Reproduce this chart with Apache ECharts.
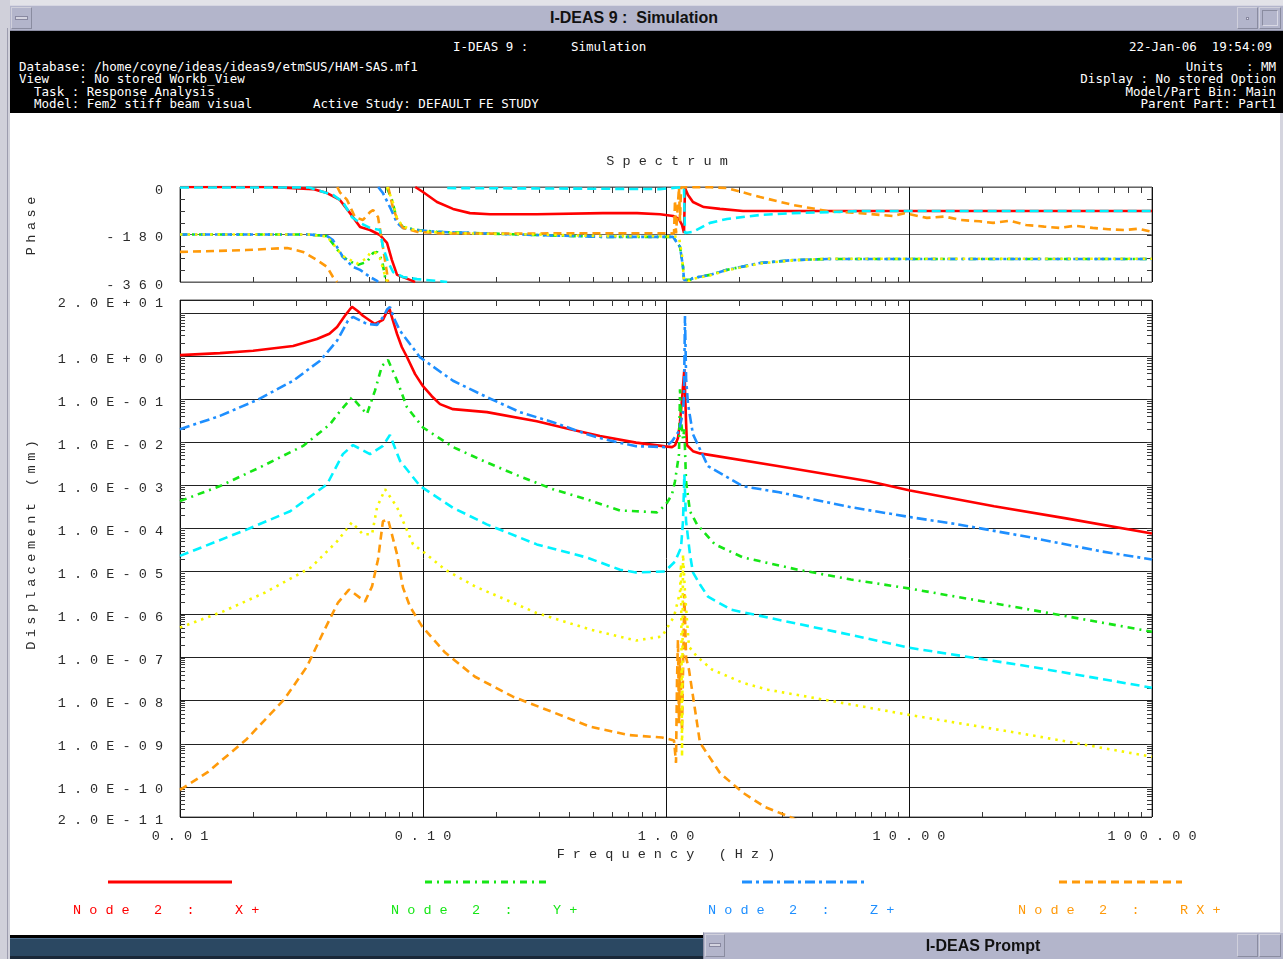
<!DOCTYPE html>
<html>
<head>
<meta charset="utf-8">
<script src="https://cdn.jsdelivr.net/npm/echarts@6/dist/echarts.min.js"></script>
<style>
html,body{margin:0;padding:0;width:1283px;height:959px;overflow:hidden;background:#fff;}
#chart{position:absolute;left:0;top:0;width:1283px;height:959px;}
.c{position:absolute;z-index:5;box-sizing:border-box;}
.m{position:absolute;z-index:6;font-family:"DejaVu Sans Mono",monospace;font-size:12.5px;line-height:13px;color:#fff;white-space:pre;}
.tb{position:absolute;z-index:6;font-family:"Liberation Sans",Arial,sans-serif;font-weight:bold;font-size:16px;color:#111;text-align:center;white-space:pre;}
</style>
</head>
<body>
<div id="chart"></div>

<!-- window chrome -->
<div class="c" style="left:0;top:0;width:1283px;height:5px;background:#e2e2e8;"></div>
<div class="c" style="left:0;top:0;width:10px;height:959px;background:#d0d0da;"></div>
<div class="c" style="left:7px;top:28px;width:1px;height:931px;background:#9c9cae;"></div>
<div class="c" style="left:1280px;top:31px;width:3px;height:902px;background:#d4d4de;"></div>
<div class="c" style="left:10px;top:5px;width:1273px;height:26px;background:#b3b5cb;border-top:1px solid #d6d6e2;border-bottom:1px solid #8c8ea4;"></div>
<div class="c" style="left:11px;top:7px;width:21px;height:22px;border:1px solid #d0d0dc;border-right-color:#8a8ca0;border-bottom-color:#8a8ca0;"></div>
<div class="c" style="left:15px;top:16px;width:13px;height:4px;background:#d4d4e0;border:1px solid #8888a0;"></div>
<div class="c" style="left:1237px;top:7px;width:21px;height:22px;border:1px solid #d0d0dc;border-right-color:#8a8ca0;border-bottom-color:#8a8ca0;"></div>
<div class="c" style="left:1246px;top:17px;width:3px;height:3px;background:#e8e8f0;border:1px solid #8888a0;"></div>
<div class="c" style="left:1259px;top:7px;width:22px;height:22px;border:1px solid #d0d0dc;border-right-color:#8a8ca0;border-bottom-color:#8a8ca0;"></div>
<div class="c" style="left:1262px;top:10px;width:16px;height:16px;border:1px solid #8a8ca0;border-right-color:#d8d8e4;border-bottom-color:#d8d8e4;"></div>
<div class="tb" style="left:484px;top:9px;width:300px;">I-DEAS 9 :  Simulation</div>

<div class="c" style="left:10px;top:31px;width:1273px;height:82px;background:#000;"></div>
<div class="m" style="left:453px;top:40px;">I-DEAS 9 :</div>
<div class="m" style="left:571px;top:40px;">Simulation</div>
<div class="m" style="right:11px;top:40px;">22-Jan-06  19:54:09</div>
<div class="m" style="left:19px;top:60px;">Database: /home/coyne/ideas/ideas9/etmSUS/HAM-SAS.mf1</div>
<div class="m" style="left:19px;top:72px;">View    : No stored Workb_View</div>
<div class="m" style="left:19px;top:85px;">  Task : Response Analysis</div>
<div class="m" style="left:19px;top:97px;">  Model: Fem2 stiff beam visual</div>
<div class="m" style="left:313px;top:97px;">Active Study: DEFAULT FE STUDY</div>
<div class="m" style="right:7px;top:60px;">Units   : MM</div>
<div class="m" style="right:7px;top:72px;">Display : No stored Option</div>
<div class="m" style="right:7px;top:85px;">Model/Part Bin: Main</div>
<div class="m" style="right:7px;top:97px;">Parent Part: Part1</div>

<div class="c" style="left:10px;top:935px;width:693px;height:3px;background:#000;"></div>
<div class="c" style="left:10px;top:938px;width:693px;height:18px;background:#2b4862;border-top:1px solid #4f7090;"></div>
<div class="c" style="left:10px;top:956px;width:693px;height:3px;background:#1a2838;"></div>
<div class="c" style="left:703px;top:932px;width:580px;height:27px;background:#b3b5cb;border-top:1px solid #d6d6e2;border-left:1px solid #8c8ea4;"></div>
<div class="c" style="left:705px;top:934px;width:20px;height:23px;border:1px solid #d0d0dc;border-right-color:#8a8ca0;border-bottom-color:#8a8ca0;"></div>
<div class="c" style="left:709px;top:943px;width:12px;height:4px;background:#d4d4e0;border:1px solid #8888a0;"></div>
<div class="c" style="left:1237px;top:934px;width:21px;height:23px;border:1px solid #d0d0dc;border-right-color:#8a8ca0;border-bottom-color:#8a8ca0;"></div>
<div class="c" style="left:1259px;top:934px;width:22px;height:23px;border:1px solid #d0d0dc;border-right-color:#8a8ca0;border-bottom-color:#8a8ca0;"></div>
<div class="tb" style="left:833px;top:937px;width:300px;">I-DEAS Prompt</div>

<script>
// ---------------- data ----------------
const freqRange = [0.01, 100];          // Hz, log axis
const dispRange = [2e-11, 20];          // mm, log scale
const phaseRange = [-360, 0];           // degrees
const phaseStep = 180;

const seriesNames = ['Node 2 :  X+', 'Node 2 :  Y+', 'Node 2 :  Z+', 'Node 2 :  RX+', 'Node 2 :  RY+', 'Node 2 :  RZ+'];
const legendNames = ['Node 2 :  X+', 'Node 2 :  Y+', 'Node 2 :  Z+', 'Node 2 :  RX+'];

// Displacement magnitude [frequency Hz, displacement mm]
const magX = [
 [0.01,1.05],[0.0146,1.17],[0.0200,1.33],[0.0292,1.71],[0.0366,2.48],[0.0412,3.3],[0.0443,4.72],[0.0477,8.6],
 [0.0510,14.0],[0.0540,11.0],[0.0566,8.6],[0.0634,5.55],[0.0684,6.9],[0.0705,9.8],[0.0728,12.5],[0.0750,7.0],
 [0.0782,3.25],[0.0818,1.62],[0.0859,0.95],[0.0928,0.38],[0.1,0.20],[0.1087,0.117],[0.1175,0.0765],[0.1329,0.0585],
 [0.1833,0.0499],[0.294,0.0308],[0.403,0.0200],[0.535,0.0140],[0.753,0.0098],[0.99,0.0080],[1.059,0.0077],
 [1.09,0.0085],[1.12,0.0125],[1.142,0.03],[1.164,0.1],[1.19,0.5],[1.209,0.03],[1.22,0.0085],[1.291,0.0062],
 [1.38,0.0055],[2.92,0.00277],[6.84,0.00124],[10.1,0.00076],[22.4,0.000325],[44.3,0.000171],[100,7.6e-5]
];
const magY = [
 [0.01,4.3e-4],[0.0146,9.6e-4],[0.0213,2.6e-3],[0.0321,8.2e-3],[0.0414,0.026],[0.0455,0.052],[0.051,0.11],
 [0.054,0.077],[0.0588,0.045],[0.0634,0.156],[0.0678,0.59],[0.0718,0.81],[0.0782,0.27],[0.0859,0.065],
 [0.1,0.022],[0.133,7.7e-3],[0.183,3.4e-3],[0.251,1.6e-3],[0.343,8.1e-4],[0.473,4.7e-4],[0.647,2.6e-4],
 [0.753,2.5e-4],[0.9185,2.35e-4],[1.0,3.6e-4],[1.059,6.2e-4],[1.089,1.24e-3],[1.131,5.3e-3],[1.142,0.17],
 [1.153,0.031],[1.175,0.012],[1.19,0.02],[1.209,1.24e-3],[1.255,2.5e-4],[1.341,1.24e-4],[1.591,4.25e-5],
 [2.074,2.12e-5],[3.46,1.11e-5],[5.77,6.5e-6],[10.1,4.0e-6],[31.5,1.3e-6],[100,4.0e-7]
];
const magZ = [
 [0.01,0.0200],[0.0146,0.0409],[0.0207,0.0948],[0.0292,0.267],[0.0377,0.78],[0.0443,2.27],[0.0491,6.6],
 [0.0515,8.1],[0.0560,6.4],[0.0588,5.55],[0.0647,5.3],[0.0690,8.5],[0.0711,12.0],[0.0731,13.8],[0.0760,7.5],
 [0.0804,3.87],[0.0973,0.93],[0.1329,0.267],[0.1833,0.111],[0.2506,0.0499],[0.3426,0.0292],[0.4733,0.0153],
 [0.535,0.0125],[0.6284,0.0100],[0.753,0.0081],[0.99,0.0077],[1.059,0.0105],[1.131,0.0183],[1.175,0.05],
 [1.186,0.131],[1.197,8.5],[1.21,0.3],[1.232,0.0765],[1.291,0.0153],[1.489,0.00277],[2.074,0.00095],
 [2.92,0.00069],[5.77,0.00031],[10.28,0.00018],[15.9,0.000124],[31.5,6.2e-5],[62.3,2.9e-5],[100,1.9e-5]
];
const magRX = [
 [0.01,8.5e-11],[0.013,2.2e-10],[0.0187,1.24e-9],[0.0268,1.06e-8],[0.0333,6.2e-8],[0.0388,3.8e-7],[0.0447,1.9e-6],
 [0.0496,3.8e-6],[0.0577,2.0e-6],[0.0617,4.5e-6],[0.0653,1.9e-5],[0.0684,1.46e-4],[0.0718,1.62e-4],[0.0782,2.5e-5],
 [0.0827,4.25e-6],[0.0884,1.53e-6],[0.0991,5.3e-7],[0.1233,1.31e-7],[0.1637,3.6e-8],[0.2345,1.24e-8],[0.34,5.5e-9],
 [0.487,2.5e-9],[0.698,1.6e-9],[0.963,1.4e-9],[1.079,1.2e-9],[1.0995,3.6e-10],[1.11,3e-8],[1.12,2.6e-7],
 [1.131,3e-9],[1.142,1e-7],[1.164,2e-9],[1.19,3e-6],[1.21,1e-7],[1.243,5.3e-8],[1.38,1.06e-9],[1.668,2.1e-10],
 [2.074,7.3e-11],[2.555,3.4e-11],[3.24,2.0e-11],[3.8,1.3e-11]
];
const magRY = [
 [0.01,2.3e-5],[0.0189,9.5e-5],[0.0284,2.5e-4],[0.0403,1.06e-3],[0.0468,5.3e-3],[0.0515,8.6e-3],[0.0605,5.3e-3],
 [0.0684,8.2e-3],[0.0731,0.0148],[0.0804,3.7e-3],[0.0973,9.6e-4],[0.133,3.0e-4],[0.183,1.24e-4],[0.294,4.25e-5],
 [0.473,2.1e-5],[0.647,1.1e-5],[0.753,9.5e-6],[0.99,1.0e-5],[1.089,1.7e-5],[1.153,3.6e-5],[1.175,1.5e-4],
 [1.19,1.8e-3],[1.209,1.5e-4],[1.255,2.5e-5],[1.291,9.5e-6],[1.38,5.0e-6],[1.489,2.6e-6],[1.851,1.3e-6],
 [2.63,8.5e-7],[5.72,3.4e-7],[10,1.7e-7],[31.5,6.2e-8],[100,2.0e-8]
];
const magRZ = [
 [0.01,5.0e-7],[0.015,1.17e-6],[0.0224,3.25e-6],[0.0346,1.24e-5],[0.0443,5.0e-5],[0.051,1.38e-4],[0.0566,7.3e-5],
 [0.0617,7.3e-5],[0.0647,3.1e-4],[0.0698,8.1e-4],[0.0711,8.5e-4],[0.0782,3.1e-4],[0.091,4.25e-5],[0.1,2.9e-5],
 [0.1233,1.1e-5],[0.1637,4.5e-6],[0.292,1.1e-6],[0.487,4.5e-7],[0.753,2.5e-7],[0.963,3.1e-7],[1.079,9.0e-7],
 [1.142,3.3e-6],[1.153,1.5e-5],[1.164,5e-10],[1.175,2.5e-5],[1.198,3.0e-6],[1.243,1.8e-7],[1.341,1.06e-7],
 [1.546,5.3e-8],[2.074,2.6e-8],[2.63,1.8e-8],[10,4.7e-9],[31.5,1.6e-9],[100,5.0e-10]
];

// Phase [frequency Hz, degrees]; null = wrap gap
const phX = [
 [0.01,0],[0.0235,0],[0.0352,-8],[0.0403,-23],[0.0455,-49],[0.0501,-99],[0.0551,-152],[0.0605,-163],
 [0.0665,-182],[0.0711,-212],[0.0745,-277],[0.0782,-333],[0.0884,-352],[0.0928,-360],[0.0928,null],
 [0.0929,0],[0.1,-19],[0.1142,-57],[0.1329,-83],[0.156,-99],[0.1886,-103],[0.294,-103],[0.55,-99],
 [0.76,-99],[0.9446,-103],[1.07,-110],[1.13,-121],[1.164,-144],[1.186,-174],[1.197,-4],[1.232,-30],
 [1.291,-57],[1.43,-76],[1.668,-83],[2.074,-91],[100,-91]
];
const phY = [
 [0.01,-180],[0.034,-180],[0.0403,-186],[0.0468,-265],[0.0535,-296],[0.0588,-284],[0.0623,-250],[0.0647,-246],
 [0.0678,-277],[0.0698,-341],[0.0711,-360],[0.0711,null],[0.0712,-4],[0.0745,-49],[0.0782,-125],[0.0827,-152],
 [0.0945,-163],[0.1142,-170],[0.1561,-174],[0.294,-182],[0.55,-189],[1.0,-189],[1.069,-189],[1.142,-227],
 [1.175,-303],[1.186,-352],[1.255,-352],[1.291,-345],[1.518,-333],[1.782,-314],[2.437,-288],[3.33,-277],
 [4.6,-273],[100,-273]
];
const phZ = [
 [0.01,-180],[0.034,-180],[0.0403,-186],[0.0426,-201],[0.0468,-265],[0.0515,-303],[0.0551,-314],[0.0605,-341],
 [0.0647,-356],[0.0653,-360],[0.0653,null],[0.0654,0],[0.0684,-23],[0.0731,-76],[0.0782,-136],[0.0827,-155],
 [0.0945,-163],[0.1142,-170],[0.1561,-174],[0.294,-182],[0.55,-189],[1.0,-189],[1.069,-189],[1.142,-227],
 [1.175,-303],[1.186,-352],[1.255,-352],[1.291,-345],[1.518,-333],[1.782,-314],[2.437,-288],[3.33,-277],
 [4.6,-273],[100,-273]
];
const phRX = [
 [0.01,-246],[0.0187,-239],[0.0276,-231],[0.0321,-246],[0.0366,-277],[0.0403,-303],[0.0426,-341],[0.0443,-360],
 [0.0443,null],[0.0444,0],[0.0455,-20],[0.0487,-49],[0.0525,-114],[0.0566,-125],[0.0605,-95],[0.0623,-87],
 [0.0653,-114],[0.0684,-227],[0.0711,-326],[0.0718,-360],[0.0718,null],[0.0719,0],[0.0753,-80],[0.0782,-120],
 [0.0827,-155],[0.0945,-170],[0.12,-176],[0.3,-176],[0.6,-175],[0.99,-175],[1.079,-176],[1.089,-50],
 [1.0995,-176],[1.12,-176],[1.131,-2],[1.142,-130],[1.153,-2],[1.22,-1],[1.52,-1],[1.78,-4],[2.44,-38],
 [3.33,-68],[4.6,-91],[6.29,-99],[8.6,-110],[9.6,-99],[11.85,-117],[14.0,-112],[16.3,-125],[19.5,-130],
 [22.2,-136],[26.0,-128],[30.3,-144],[36.0,-150],[41.8,-155],[48.0,-147],[57.0,-155],[66.0,-160],[77.0,-163],
 [88.0,-158],[100,-170]
];
const phRY = [
 [0.01,-2],[0.034,-2],[0.0426,-30],[0.0468,-57],[0.0510,-114],[0.0551,-136],[0.0605,-155],[0.0665,-163],
 [0.0684,-227],[0.0718,-284],[0.0753,-322],[0.0827,-341],[0.0945,-349],[0.114,-356],[0.1257,-360],[0.1257,null],
 [0.1258,-4],[0.4,-6],[0.9446,-8],[1.12,-2],[1.186,-2],[1.197,-174],[1.291,-170],[1.518,-136],[1.782,-121],
 [2.437,-106],[3.33,-99],[4.8,-95],[6.29,-91],[100,-91]
];
const phRZ = [
 [0.01,-180],[0.034,-180],[0.0403,-188],[0.0468,-262],[0.0535,-290],[0.0588,-270],[0.0605,-250],[0.0634,-248],
 [0.0665,-270],[0.0698,-335],[0.0711,-360],[0.0711,null],[0.0712,0],[0.0753,-60],[0.0782,-120],[0.0827,-150],
 [0.0945,-165],[0.1142,-172],[0.1561,-176],[0.294,-180],[0.55,-186],[1.0,-187],[1.069,-187],[1.131,-190],
 [1.164,-260],[1.186,-355],[1.255,-355],[1.291,-348],[1.518,-335],[1.782,-316],[2.437,-290],[3.33,-278],
 [4.6,-272],[100,-272]
];

// ---------------- style ----------------
const FONT = 'Liberation Mono';
const FS = 13.5;
const TXT = '#2a2a2a';
const styles = [
  {color:'#ff0000', width:2.6, type:'solid'},
  {color:'#16e616', width:2.6, type:[7,5,2,5]},
  {color:'#1e8fff', width:2.6, type:[10,4,3,4]},
  {color:'#ff9a0a', width:2.6, type:[8,5]},
  {color:'#00f2ff', width:2.6, type:[9,5]},
  {color:'#f6f600', width:2.6, type:[2.5,5]}
];
const spaced = s => String(s).split('').join(' ');
// letters separated by narrow (rich-text) gaps, for the rotated axis names
const narrowSpaced = s => String(s).split('').join('{g| }');
const expLabel = v => {
  const s = v.toExponential(1).replace(/e([+-])(\d+)/, (m, sg, d) => 'E' + sg + (d.length < 2 ? '0' + d : d));
  return spaced(s);
};

// minor tick positions (axis decoration)
const minorFreq = [];
for (let n = -2; n <= 1; n++) for (let k = 2; k <= 9; k++) minorFreq.push(k * Math.pow(10, n));
const minorDisp = [];
for (let n = -11; n <= 1; n++) for (let k = 1; k <= 9; k++) {
  const v = k * Math.pow(10, n);
  if (v > dispRange[0] * 1.0001 && v < dispRange[1] * 0.9999) minorDisp.push(Math.log10(v));
}
const minorPhase = [-315, -270, -225, -180, -135, -90, -45];

const TL = 5;
function xTicks(params, api) {
  const cs = params.coordSys;
  const x = Math.round(api.coord([api.value(0), api.value(1)])[0]) + 0.5;
  const st = {stroke:'#3a3a3a', lineWidth:1};
  return {type:'group', children:[
    {type:'line', shape:{x1:x, y1:cs.y, x2:x, y2:cs.y + TL + 1}, style:st},
    {type:'line', shape:{x1:x, y1:cs.y + cs.height, x2:x, y2:cs.y + cs.height - TL}, style:st}
  ]};
}
function yTicks(params, api) {
  const cs = params.coordSys;
  const y = Math.round(api.coord([api.value(0), api.value(1)])[1]) + 0.5;
  const st = {stroke:'#3a3a3a', lineWidth:1};
  return {type:'group', children:[
    {type:'line', shape:{x1:cs.x, y1:y, x2:cs.x + TL, y2:y}, style:st},
    {type:'line', shape:{x1:cs.x + cs.width, y1:y, x2:cs.x + cs.width - TL, y2:y}, style:st}
  ]};
}

const magSets = [magX, magY, magZ, magRX, magRY, magRZ];
const phSets = [phX, phY, phZ, phRX, phRY, phRZ];

const series = [];
seriesNames.forEach((name, i) => {
  const base = {type:'line', name, symbol:'none', showSymbol:false, silent:true, connectNulls:false,
    color: styles[i].color, lineStyle: styles[i], z: 3 + i, clip: true};
  series.push(Object.assign({}, base, {xAxisIndex:0, yAxisIndex:0,
    data: phSets[i].map(p => [p[0], p[1] == null ? '-' : p[1]])}));
  series.push(Object.assign({}, base, {xAxisIndex:1, yAxisIndex:1,
    data: magSets[i].map(p => [p[0], Math.log10(p[1])])}));
});
series.push({type:'custom', xAxisIndex:0, yAxisIndex:0, silent:true, z:2, renderItem:xTicks, data: minorFreq.map(f => [f, -180])});
series.push({type:'custom', xAxisIndex:1, yAxisIndex:1, silent:true, z:2, renderItem:xTicks, data: minorFreq.map(f => [f, 0])});
series.push({type:'custom', xAxisIndex:0, yAxisIndex:0, silent:true, z:2, renderItem:yTicks, data: minorPhase.map(p => [1, p])});
series.push({type:'custom', xAxisIndex:1, yAxisIndex:1, silent:true, z:2, renderItem:yTicks, data: minorDisp.map(v => [1, v])});

const axisText = {fontFamily:FONT, fontSize:FS, color:TXT};
const nameText = {fontFamily:FONT, fontSize:FS, color:TXT, rich:{g:{fontFamily:FONT, fontSize:7.5, color:TXT}}};
const legendLeft = [63, 381, 698, 1008];
const legendLine = [[108,232],[425,548],[742,865],[1059,1182]];

const option = {
  animation: false,
  backgroundColor: '#ffffff',
  title: {text: spaced('Spectrum'), left: 662, top: 149, textAlign:'center',
    textStyle:{fontFamily:FONT, fontSize:FS, fontWeight:'normal', color:TXT}},
  grid: [
    {left:180, top:187, width:972, height:95, show:true, borderColor:'#555', borderWidth:1, backgroundColor:'transparent', containLabel:false, outerBoundsMode:'none'},
    {left:180, top:300, width:972, height:517, show:true, borderColor:'#555', borderWidth:1, backgroundColor:'transparent', containLabel:false, outerBoundsMode:'none'}
  ],
  xAxis: [
    {type:'log', logBase:10, gridIndex:0, min:freqRange[0], max:freqRange[1],
     axisLine:{show:false}, axisTick:{show:false}, axisLabel:{show:false},
     splitLine:{show:true, lineStyle:{color:'#111', width:1}}},
    {type:'log', logBase:10, gridIndex:1, min:freqRange[0], max:freqRange[1],
     axisLine:{show:false}, axisTick:{show:false},
     axisLabel:Object.assign({margin:12, formatter: v => spaced(Number(v).toFixed(2))}, axisText),
     splitLine:{show:true, lineStyle:{color:'#111', width:1}},
     name: spaced('Frequency (Hz)'), nameLocation:'middle', nameGap:27, nameTextStyle: axisText}
  ],
  yAxis: [
    {type:'value', gridIndex:0, min:phaseRange[0], max:phaseRange[1], interval:phaseStep,
     axisLine:{show:false}, axisTick:{show:false},
     axisLabel:Object.assign({margin:17, verticalAlign:'top', lineHeight:6, formatter: v => spaced(v)}, axisText),
     splitLine:{show:true, lineStyle:{color:'#666', width:1}},
     name: narrowSpaced('Phase'), nameLocation:'middle', nameGap:142, nameRotate:90,
     nameTextStyle: Object.assign({padding:[0,0,0,17]}, nameText)},
    {type:'value', gridIndex:1, min:Math.log10(dispRange[0]), max:Math.log10(dispRange[1]), splitNumber:12,
     axisLine:{show:false}, axisTick:{show:false},
     axisLabel:Object.assign({margin:17, verticalAlign:'top', lineHeight:6, showMinLabel:true, showMaxLabel:true,
       formatter: v => (Math.abs(v - 1) < 1e-6 ? '' : expLabel(Math.pow(10, v)))}, axisText),
     splitLine:{show:true, lineStyle:{color:'#222', width:1}},
     name: narrowSpaced('Displacement (mm)'), nameLocation:'middle', nameGap:142, nameRotate:90,
     nameTextStyle: Object.assign({padding:[0,0,0,27]}, nameText)}
  ],
  legend: legendNames.map((nm, i) => ({
    left: legendLeft[i], top: 898, itemWidth: 0, itemHeight: 14, itemGap: 0, selectedMode: false,
    icon: 'rect', itemStyle: {opacity: 0}, lineStyle: {opacity: 0},
    data: [{name: nm, textStyle: {color: styles[i].color}}],
    formatter: s => spaced(s),
    textStyle: {fontFamily: FONT, fontSize: FS}
  })),
  graphic: legendNames.map((nm, i) => ({
    type:'line', silent:true, z:10,
    shape:{x1:legendLine[i][0], y1:882, x2:legendLine[i][1], y2:882},
    style:{stroke: styles[i].color, lineWidth:3, lineDash: styles[i].type === 'solid' ? null : styles[i].type}
  })),
  series
};

const chart = echarts.init(document.getElementById('chart'), null, {renderer:'canvas'});
chart.setOption(option);
</script>
</body>
</html>
